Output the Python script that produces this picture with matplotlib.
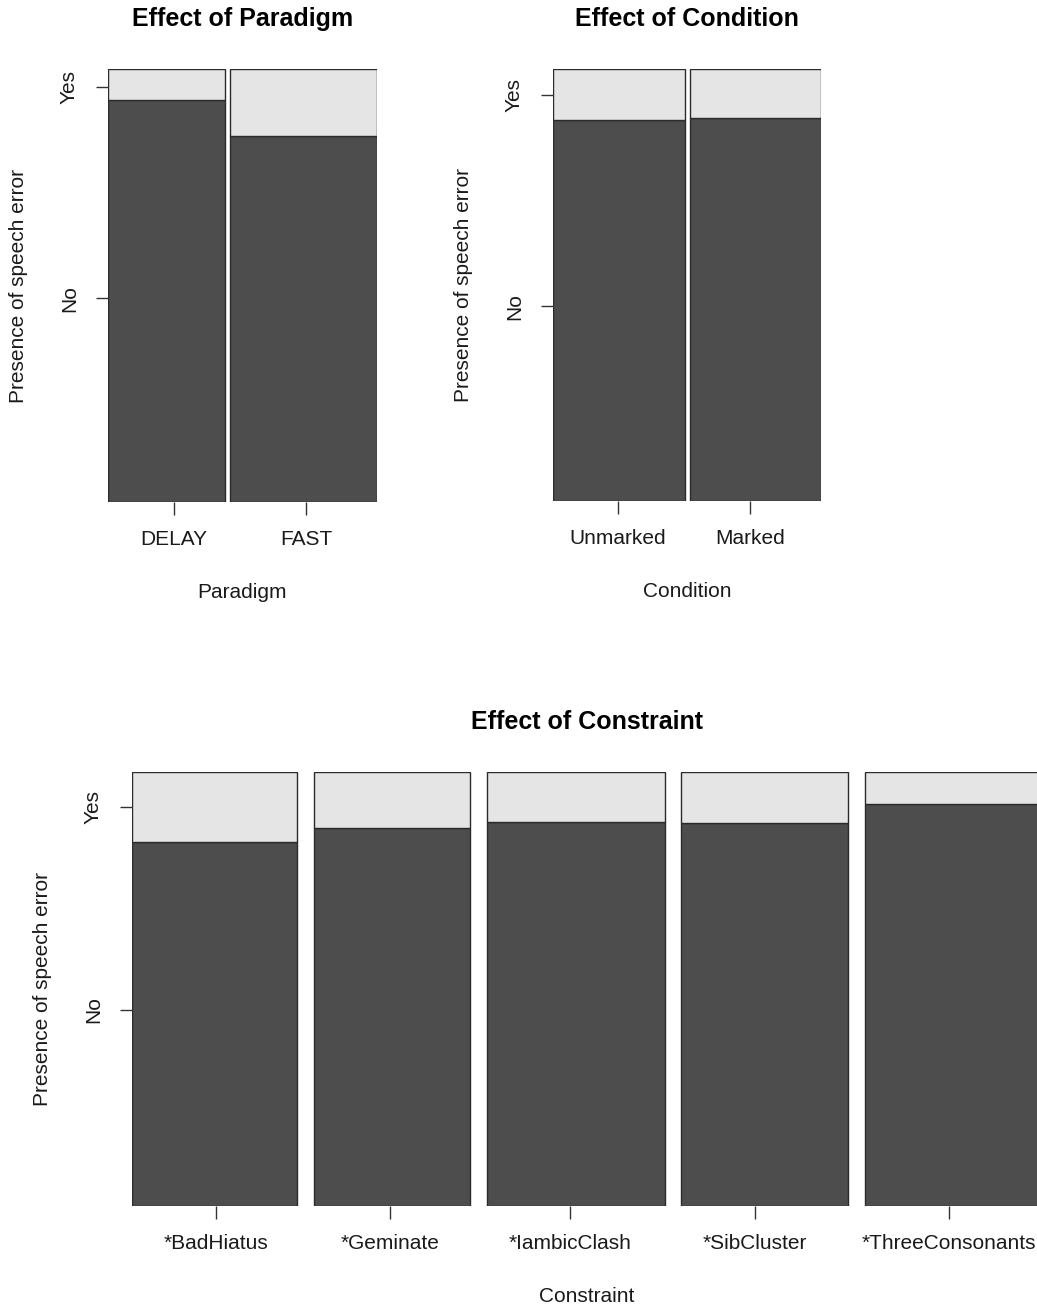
import numpy as np
import matplotlib
matplotlib.use('Agg')
import matplotlib.pyplot as plt

plt.rcParams['font.family'] = ['Liberation Sans', 'DejaVu Sans']

# -------------------------------
# data: width share of each group, share of "No" within it
# -------------------------------
paradigm = ["DELAY", "FAST"]
paradigm_share = [0.443, 0.557]
paradigm_no = [0.928, 0.845]

condition = ["Unmarked", "Marked"]
condition_share = [0.502, 0.498]
condition_no = [0.882, 0.887]

constraint = ["*BadHiatus", "*Geminate", "*IambicClash", "*SibCluster", "*ThreeConsonants"]
constraint_share = [0.196, 0.185, 0.211, 0.198, 0.209]
constraint_no = [0.839, 0.871, 0.885, 0.882, 0.926]

ylevels = ["No", "Yes"]

# axis tick locations (data units)
paradigm_xat = [0.250, 0.751]
paradigm_yat = [0.471, 0.958]
condition_xat = [0.247, 0.750]
condition_yat = [0.451, 0.940]
constraint_xat = [0.0997, 0.306, 0.520, 0.739, 0.970]
constraint_yat = [0.452, 0.919]

DARK = "#4d4d4d"
LIGHT = "#e5e5e5"
EDGE = "#2b2b2b"
OFF = 0.02  # gap between spines


def spineplot(ax, labels, share, no_frac, xat, yat, title, xlabel):
    share = np.array(share)
    no_frac = np.array(no_frac)
    n = len(labels)
    left = np.concatenate([[0], np.cumsum(share[:-1] + OFF)])
    ax.bar(left, no_frac, share, align='edge', color=DARK,
           edgecolor=EDGE, linewidth=1.0)
    ax.bar(left, 1 - no_frac, share, bottom=no_frac, align='edge',
           color=LIGHT, edgecolor=EDGE, linewidth=1.0)
    ax.set_xlim(0, 1 + OFF * (n - 1))
    ax.set_ylim(0, 1)
    for s in ax.spines.values():
        s.set_visible(False)
    ax.set_xticks(xat)
    ax.set_xticklabels(labels)
    ax.set_yticks(yat)
    ax.set_yticklabels(ylevels, rotation=90, va='center')
    ax.tick_params(axis='both', length=9, width=1.0, color='#333333',
                   labelsize=15, labelcolor='#1a1a1a')
    ax.tick_params(axis='x', pad=11)
    ax.tick_params(axis='y', pad=12)
    ax.set_title(title, fontsize=18, fontweight='bold', pad=31)
    ax.set_xlabel(xlabel, fontsize=15, labelpad=25, color='#1a1a1a')
    ax.set_ylabel("Presence of speech error", fontsize=15, labelpad=23,
                  color='#1a1a1a')


fig = plt.figure(figsize=(10.37, 13.10), dpi=100)

ax1 = fig.add_axes([0.1041, 0.6168, 0.2594, 0.3305])
spineplot(ax1, paradigm, paradigm_share, paradigm_no, paradigm_xat,
          paradigm_yat, "Effect of Paradigm", "Paradigm")

ax2 = fig.add_axes([0.5333, 0.6176, 0.2584, 0.3298])
spineplot(ax2, condition, condition_share, condition_no, condition_xat,
          condition_yat, "Effect of Condition", "Condition")

ax3 = fig.add_axes([0.1273, 0.0794, 0.8775, 0.3313])
spineplot(ax3, constraint, constraint_share, constraint_no, constraint_xat,
          constraint_yat, "Effect of Constraint", "Constraint")

plt.savefig("out.png", dpi=100)
